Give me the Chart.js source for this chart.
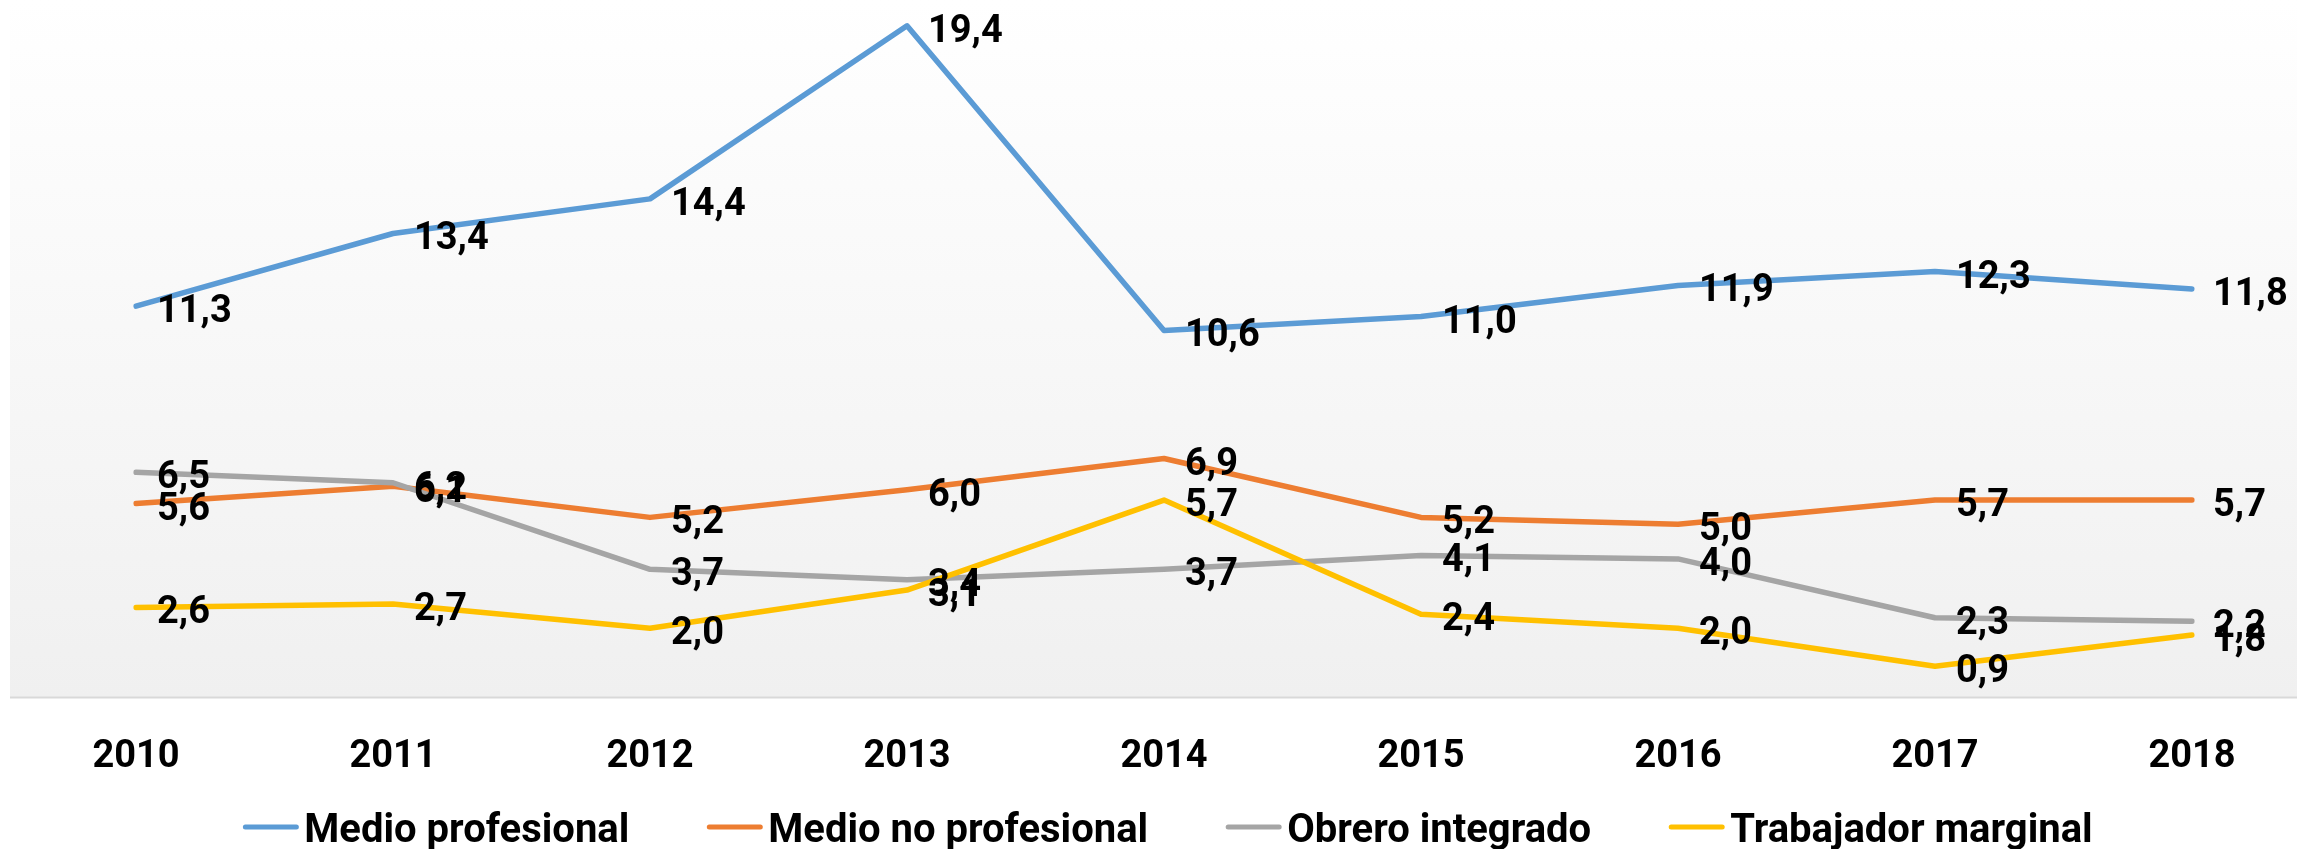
<!DOCTYPE html>
<html lang="es">
<head>
<meta charset="utf-8">
<title>Evolución por tipo de ocupación 2010-2018</title>
<script src="https://cdn.jsdelivr.net/npm/chart.js@4.4.1/dist/chart.umd.min.js"></script>
<style>
  html, body { margin: 0; padding: 0; background: #ffffff; }
  #wrap { position: relative; width: 2297px; height: 849px; }
</style>
</head>
<body>
<div id="wrap"><canvas id="chart"></canvas></div>
<script>
'use strict';

// ***** DATA *****
let years = ['2010', '2011', '2012', '2013', '2014', '2015', '2016', '2017', '2018'];

let medioProfesional = [11.3, 13.4, 14.4, 19.4, 10.6, 11.0, 11.9, 12.3, 11.8];
let medioNoProfesional = [5.6, 6.1, 5.2, 6.0, 6.9, 5.2, 5.0, 5.7, 5.7];
let obreroIntegrado = [6.5, 6.2, 3.7, 3.4, 3.7, 4.1, 4.0, 2.3, 2.2];
let trabajadorMarginal = [2.6, 2.7, 2.0, 3.1, 5.7, 2.4, 2.0, 0.9, 1.8];

let seriesNames = ['Medio profesional', 'Medio no profesional', 'Obrero integrado', 'Trabajador marginal'];
let seriesColors = ['#5B9BD5', '#ED7D31', '#A5A5A5', '#FFC000'];

// ***** STYLE *****
let fontFamily = 'Roboto, "Liberation Sans", sans-serif';
let labelFont = 'bold 38px ' + fontFamily;
let legendFont = 'bold 40px ' + fontFamily;
let plotLeft = 10;

let canvasElem = document.getElementById('chart');

// ***** HELPERS *****
function formatValue(v) {
    return v.toFixed(1).replace('.', ',');
}

function makeDataset(i, values) {
    return {
        label: seriesNames[i],
        data: values,
        borderColor: seriesColors[i],
        backgroundColor: seriesColors[i],
        borderWidth: 5.5,
        borderCapStyle: 'round',
        borderJoinStyle: 'round',
        pointRadius: 0,
        pointHoverRadius: 0,
        tension: 0,
        // later series sit on top of earlier ones
        order: seriesNames.length - 1 - i
    };
}

// ***** PLUGINS *****
// grey gradient plot area + bottom axis line
let plotBackground = {
    id: 'plotBackground',
    beforeDraw(chart) {
        let ctx = chart.ctx;
        let area = chart.chartArea;
        ctx.save();
        ctx.fillStyle = '#ffffff';
        ctx.fillRect(0, 0, chart.width, chart.height);
        let grad = ctx.createLinearGradient(0, 0, 0, area.bottom);
        grad.addColorStop(0, '#ffffff');
        grad.addColorStop(1, '#f0f0f0');
        ctx.fillStyle = grad;
        ctx.fillRect(plotLeft, 0, chart.width - plotLeft, area.bottom);
        ctx.strokeStyle = '#d9d9d9';
        ctx.lineWidth = 2;
        ctx.beginPath();
        ctx.moveTo(plotLeft, area.bottom);
        ctx.lineTo(chart.width, area.bottom);
        ctx.stroke();
        ctx.restore();
    }
};

// value labels to the right of every point
let valueLabels = {
    id: 'valueLabels',
    afterDatasetsDraw(chart) {
        let ctx = chart.ctx;
        ctx.save();
        ctx.font = labelFont;
        ctx.fillStyle = '#000000';
        ctx.textAlign = 'left';
        ctx.textBaseline = 'alphabetic';
        chart.data.datasets.forEach((ds, i) => {
            let meta = chart.getDatasetMeta(i);
            meta.data.forEach((pt, j) => {
                ctx.fillText(formatValue(ds.data[j]), pt.x + 21, pt.y + 16);
            });
        });
        ctx.restore();
    }
};

// single-row legend under the axis
let bottomLegend = {
    id: 'bottomLegend',
    afterDraw(chart) {
        let ctx = chart.ctx;
        let lineLen = 55;
        let textGap = 6;
        let itemGap = 78;
        let y = 827;
        ctx.save();
        ctx.font = legendFont;
        let widths = chart.data.datasets.map(ds => ctx.measureText(ds.label).width);
        let total = 0;
        widths.forEach((w, i) => {
            total += lineLen + textGap + w + (i < widths.length - 1 ? itemGap : 0);
        });
        let x = 1168 - total / 2;
        chart.data.datasets.forEach((ds, i) => {
            ctx.strokeStyle = ds.borderColor;
            ctx.lineWidth = 5;
            ctx.lineCap = 'round';
            ctx.beginPath();
            ctx.moveTo(x + 2, y);
            ctx.lineTo(x + lineLen - 2, y);
            ctx.stroke();
            ctx.fillStyle = '#000000';
            ctx.textAlign = 'left';
            ctx.textBaseline = 'alphabetic';
            ctx.fillText(ds.label, x + lineLen + textGap, y + 15);
            x += lineLen + textGap + widths[i] + itemGap;
        });
        ctx.restore();
    }
};

// ***** CHART *****
let chartObj = {
    type: 'line',
    data: {
        labels: years,
        datasets: [
            makeDataset(0, medioProfesional),
            makeDataset(1, medioNoProfesional),
            makeDataset(2, obreroIntegrado),
            makeDataset(3, trabajadorMarginal)
        ]
    },
    options: {
        responsive: true,
        maintainAspectRatio: false,
        animation: false,
        devicePixelRatio: 1,
        layout: {
            padding: { left: 136, right: 105, top: 5, bottom: 40 }
        },
        plugins: {
            legend: { display: false },
            tooltip: { enabled: false }
        },
        scales: {
            x: {
                offset: false,
                grid: { display: false },
                border: { display: false },
                ticks: {
                    color: '#000000',
                    font: { family: fontFamily, size: 38, weight: 'bold' },
                    padding: 29,
                    maxRotation: 0,
                    autoSkip: false
                }
            },
            y: {
                display: false,
                min: 0,
                max: 20
            }
        }
    },
    plugins: [plotBackground, valueLabels, bottomLegend]
};

new Chart(canvasElem, chartObj);
</script>
</body>
</html>
